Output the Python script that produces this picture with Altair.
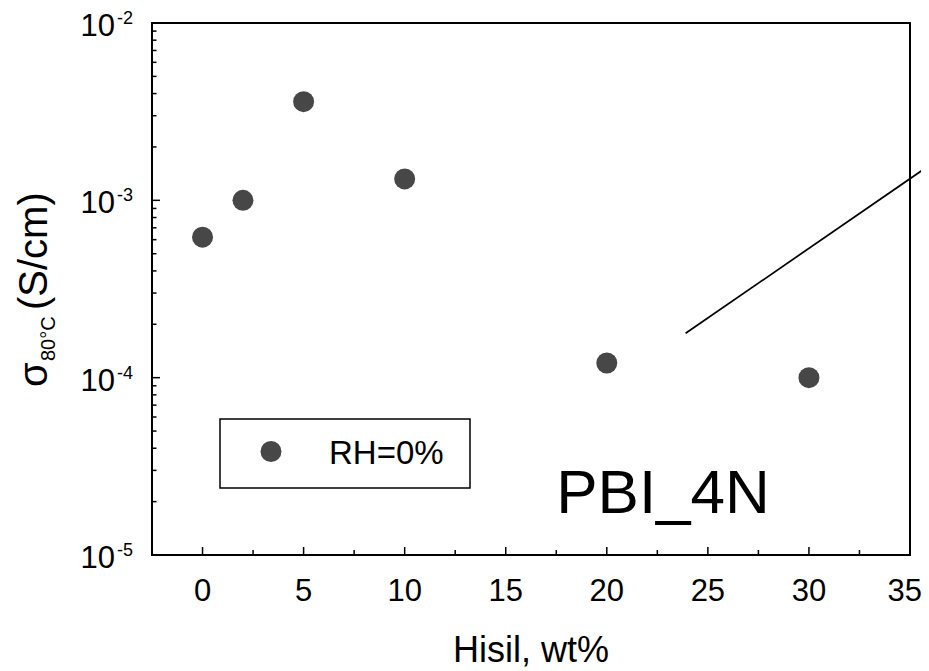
import altair as alt
import pandas as pd

# ---- data ----
hisil_wt = [0, 2, 5, 10, 20, 30]
sigma_80c = [6.2e-4, 1.0e-3, 3.6e-3, 1.32e-3, 1.21e-4, 1.0e-4]
series_label = "RH=0%"
panel_label = "PBI_4N"

x_major = [0, 5, 10, 15, 20, 25, 30, 35]
x_minor = [2.5, 7.5, 12.5, 17.5, 22.5, 27.5, 32.5]
y_major = [1e-5, 1e-4, 1e-3, 1e-2]
y_exponents = ["-5", "-4", "-3", "-2"]
y_minor = [m * 10.0 ** e for e in (-5, -4, -3) for m in range(2, 10)]

line_x = [23.9, 35.8]
line_y = [1.78e-4, 1.53e-3]

x_domain = [-2.5, 35]
y_domain = [1e-5, 1e-2]

FONT = "Liberation Sans"
W, H = 758, 532
DOT = "#474747"

df = pd.DataFrame({"x": hisil_wt, "y": sigma_80c})
df_line = pd.DataFrame({"x": line_x, "y": line_y})
df_xmaj = pd.DataFrame({"x": x_major, "t": [str(v) for v in x_major]})
df_xmin = pd.DataFrame({"x": x_minor})
df_ymaj = pd.DataFrame({"y": y_major, "e": y_exponents})
df_ymin = pd.DataFrame({"y": y_minor})
one = pd.DataFrame({"k": [0]})

xs = alt.Scale(domain=x_domain, nice=False, zero=False)
ys = alt.Scale(type="log", domain=y_domain, nice=False)
X = lambda: alt.X("x:Q", scale=xs, axis=None)
Y = lambda: alt.Y("y:Q", scale=ys, axis=None)

line = alt.Chart(df_line).mark_line(color="black", strokeWidth=1.7, clip=False).encode(x=X(), y=Y())

points = alt.Chart(df).mark_circle(size=440, color=DOT, opacity=1).encode(x=X(), y=Y())

# ticks (inward)
xt_major = alt.Chart(df_xmaj).mark_rule(color="black", strokeWidth=1.5).encode(
    x=X(), y=alt.value(H), y2=alt.value(H - 8))
xt_minor = alt.Chart(df_xmin).mark_rule(color="black", strokeWidth=1.5).encode(
    x=X(), y=alt.value(H), y2=alt.value(H - 5))
yt_major = alt.Chart(df_ymaj).mark_rule(color="black", strokeWidth=1.5).encode(
    y=Y(), x=alt.value(0), x2=alt.value(8))
yt_minor = alt.Chart(df_ymin).mark_rule(color="black", strokeWidth=1.5).encode(
    y=Y(), x=alt.value(0), x2=alt.value(4.5))

# tick labels (last one nudged so it stays inside the page)
x_labels = alt.Chart(df_xmaj.iloc[:-1]).mark_text(font=FONT, fontSize=31, align="center", baseline="alphabetic", color="black").encode(
    x=X(), y=alt.value(H + 45.5), text="t:N")
x_label_last = alt.Chart(df_xmaj.iloc[-1:]).mark_text(font=FONT, fontSize=31, align="right", dx=12, baseline="alphabetic", color="black").encode(
    x=X(), y=alt.value(H + 45.5), text="t:N")
y_labels = alt.Chart(df_ymaj).mark_text(font=FONT, fontSize=31, align="right", baseline="alphabetic", dy=13, color="black").encode(
    y=Y(), x=alt.value(-37), text=alt.value("10"))
y_exp = alt.Chart(df_ymaj).mark_text(font=FONT, fontSize=18, align="left", baseline="alphabetic", dy=1, color="black").encode(
    y=Y(), x=alt.value(-35), text="e:N")

# axis titles
x_title = alt.Chart(one).mark_text(font=FONT, fontSize=36, align="center", baseline="alphabetic", color="black").encode(
    x=alt.value(379), y=alt.value(639), text=alt.value("Hisil, wt%"))
yt_sigma = alt.Chart(one).mark_text(font=FONT, fontSize=40, align="left", baseline="alphabetic", angle=270, color="black").encode(
    x=alt.value(-105), y=alt.value(364), text=alt.value("σ"))
yt_sub = alt.Chart(one).mark_text(font=FONT, fontSize=20, align="left", baseline="alphabetic", angle=270, color="black").encode(
    x=alt.value(-97), y=alt.value(338), text=alt.value("80°C"))
yt_unit = alt.Chart(one).mark_text(font=FONT, fontSize=40, align="left", baseline="alphabetic", angle=270, color="black").encode(
    x=alt.value(-105), y=alt.value(287), text=alt.value("(S/cm)"))

# legend box
leg_box = alt.Chart(one).mark_rect(fill="white", stroke="black", strokeWidth=1.5).encode(
    x=alt.value(68), x2=alt.value(318), y=alt.value(396), y2=alt.value(465))
leg_dot = alt.Chart(one).mark_circle(size=440, color=DOT, opacity=1).encode(
    x=alt.value(119), y=alt.value(428.5))
leg_txt = alt.Chart(one).mark_text(font=FONT, fontSize=33, align="left", baseline="alphabetic", color="black").encode(
    x=alt.value(177), y=alt.value(441), text=alt.value(series_label))

panel = alt.Chart(one).mark_text(font=FONT, fontSize=62, align="center", baseline="alphabetic", color="black").encode(
    x=alt.value(511), y=alt.value(490), text=alt.value(panel_label))

chart = alt.layer(
    line, points, xt_major, xt_minor, yt_major, yt_minor,
    x_labels, x_label_last, y_labels, y_exp, x_title, yt_sigma, yt_sub, yt_unit,
    leg_box, leg_dot, leg_txt, panel,
).properties(
    width=W, height=H,
    autosize=alt.AutoSizeParams(type="none"),
    padding={"left": 144, "top": 15, "right": 11, "bottom": 118},
    background="white",
).configure_view(stroke="black", strokeWidth=2)

chart.save("out.html", embed_options={"renderer": "svg", "actions": False})
